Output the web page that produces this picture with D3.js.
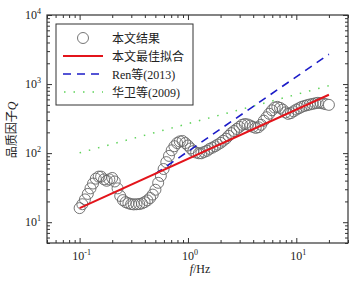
<!DOCTYPE html>
<html>
<head>
<meta charset="utf-8">
<script src="https://cdn.jsdelivr.net/npm/d3@7"></script>
<style>
  body { margin: 0; background: #fff; }
  text { font-family: "Liberation Serif", "Noto Sans CJK SC", serif; fill: #222; }
</style>
</head>
<body>
<svg id="chart" width="361" height="281"></svg>
<script>
const freq = [0.100, 0.106, 0.112, 0.119, 0.126, 0.133, 0.141, 0.150, 0.158, 0.168,
  0.178, 0.188, 0.200, 0.211, 0.224, 0.237, 0.251, 0.266, 0.282, 0.299,
  0.316, 0.335, 0.355, 0.376, 0.398, 0.422, 0.447, 0.473, 0.501, 0.531,
  0.562, 0.596, 0.631, 0.668, 0.708, 0.750, 0.794, 0.841, 0.891, 0.944,
  1.00, 1.06, 1.12, 1.19, 1.26, 1.33, 1.41, 1.50, 1.58, 1.68,
  1.78, 1.88, 2.00, 2.11, 2.24, 2.37, 2.51, 2.66, 2.82, 2.99,
  3.16, 3.35, 3.55, 3.76, 3.98, 4.22, 4.47, 4.73, 5.01, 5.31,
  5.62, 5.96, 6.31, 6.68, 7.08, 7.50, 7.94, 8.41, 8.91, 9.44,
  10.0, 10.6, 11.2, 11.9, 12.6, 13.3, 14.1, 15.0, 15.8, 16.8,
  17.8, 18.8, 20.0];
const qObs = [16.0, 18.2, 21.4, 25.7, 30.9, 36.3, 42.7, 45.7, 45.7, 41.7,
  39.8, 41.7, 43.7, 38.9, 30.9, 24.0, 20.9, 19.5, 18.8, 18.3,
  18.1, 18.2, 18.3, 18.7, 19.5, 20.7, 22.4, 25.1, 29.5, 37.2,
  46.8, 58.9, 74.1, 91.2, 110, 126, 140, 148, 150, 140,
  129, 117, 107, 102, 99.5, 99.5, 104, 108, 115, 120,
  126, 133, 141, 151, 162, 178, 195, 209, 224, 240,
  257, 264, 260, 251, 240, 232, 237, 257, 295, 331,
  372, 417, 457, 468, 452, 427, 389, 370, 380, 403,
  427, 447, 468, 483, 495, 506, 516, 527, 535, 532,
  522, 511, 500];

// fitted / published relations (end points)
const fitF = [0.1, 20];
const fitQ = [16, 700];
const renF = [0.5, 20];
const renQ = [50, 2700];
const huaF = [0.1, 20];
const huaQ = [101, 948];

const legendLabels = ["本文结果", "本文最佳拟合", "Ren等(2013)", "华卫等(2009)"];

const xMajor = [0.1, 1, 10];
const xMinor = [0.05, 0.06, 0.07, 0.08, 0.09, 0.2, 0.3, 0.4, 0.5, 0.6, 0.7, 0.8, 0.9,
  2, 3, 4, 5, 6, 7, 8, 9, 20, 30];
const yMajor = [10, 100, 1000, 10000];
const yMinor = [5, 6, 7, 8, 9, 20, 30, 40, 50, 60, 70, 80, 90,
  200, 300, 400, 500, 600, 700, 800, 900, 2000, 3000, 4000, 5000, 6000, 7000, 8000, 9000];

const svg = d3.select("#chart");
const pLeft = 47, pRight = 348, pTop = 15, pBottom = 243;

const x = d3.scaleLog().domain([0.05, 30]).range([pLeft, pRight]);
const y = d3.scaleLog().domain([5, 10000]).range([pBottom, pTop]);

// observed points: open grey rings, the densely packed band
const pts = freq.map((f, i) => ({ f: f, q: qObs[i] }));
svg.append("g")
  .selectAll("circle")
  .data(pts)
  .enter()
  .append("circle")
  .attr("cx", d => x(d.f))
  .attr("cy", d => y(d.q))
  .attr("r", 5.5)
  .attr("fill", (d, i) => (i === pts.length - 1 ? "#fff" : "none"))
  .attr("stroke", "#666")
  .attr("stroke-width", 0.9);

const line = d3.line().x(d => x(d[0])).y(d => y(d[1]));

// 华卫等(2009)
svg.append("path")
  .datum(huaF.map((f, i) => [f, huaQ[i]]))
  .attr("d", line)
  .attr("fill", "none")
  .attr("stroke", "#5fd35a")
  .attr("stroke-width", 1.5)
  .attr("stroke-dasharray", "1.5,8");

// Ren等(2013)
svg.append("path")
  .datum(renF.map((f, i) => [f, renQ[i]]))
  .attr("d", line)
  .attr("fill", "none")
  .attr("stroke", "#1c1cc8")
  .attr("stroke-width", 1.6)
  .attr("stroke-dasharray", "8,6");

// best fit
svg.append("path")
  .datum(fitF.map((f, i) => [f, fitQ[i]]))
  .attr("d", line)
  .attr("fill", "none")
  .attr("stroke", "#e3141b")
  .attr("stroke-width", 2);

// axes, ticks pointing inward on all four sides
function axis(gen, tx, ty, vals, size) {
  const a = svg.append("g")
    .attr("transform", `translate(${tx},${ty})`)
    .call(gen.tickValues(vals).tickSize(size).tickSizeOuter(0).tickFormat(""));
  a.select(".domain").remove();
  a.selectAll("line").attr("stroke", "#333").attr("stroke-width", 1);
}
axis(d3.axisBottom(x), 0, pBottom, xMajor, -5);
axis(d3.axisBottom(x), 0, pBottom, xMinor, -3);
axis(d3.axisTop(x), 0, pTop, xMajor, -5);
axis(d3.axisTop(x), 0, pTop, xMinor, -3);
axis(d3.axisLeft(y), pLeft, 0, yMajor, -5);
axis(d3.axisLeft(y), pLeft, 0, yMinor, -3);
axis(d3.axisRight(y), pRight, 0, yMajor, -5);
axis(d3.axisRight(y), pRight, 0, yMinor, -3);

svg.append("rect")
  .attr("x", pLeft).attr("y", pTop)
  .attr("width", pRight - pLeft).attr("height", pBottom - pTop)
  .attr("fill", "none").attr("stroke", "#333").attr("stroke-width", 1.2);

// tick labels 10^n
function powLabel(sel, v) {
  sel.append("tspan").text("10");
  sel.append("tspan").attr("dy", -5).attr("font-size", 8).text(Math.round(Math.log10(v)));
}
xMajor.forEach(v => {
  const t = svg.append("text")
    .attr("x", x(v) + 2).attr("y", 260)
    .attr("text-anchor", "middle").attr("font-size", 12);
  powLabel(t, v);
});
yMajor.forEach(v => {
  const t = svg.append("text")
    .attr("x", 41).attr("y", y(v) + 4)
    .attr("text-anchor", "end").attr("font-size", 12);
  powLabel(t, v);
});

// axis titles
const xt = svg.append("text").attr("x", 200).attr("y", 273)
  .attr("text-anchor", "middle").attr("font-size", 12);
xt.append("tspan").attr("font-style", "italic").text("f");
xt.append("tspan").text("/Hz");

const yt = svg.append("text")
  .attr("transform", "translate(16,130) rotate(-90)")
  .attr("text-anchor", "middle").attr("font-size", 12);
yt.append("tspan").text("品质因子");
yt.append("tspan").attr("font-style", "italic").text("Q");

// legend
const lg = svg.append("g");
lg.append("rect")
  .attr("x", 56).attr("y", 24).attr("width", 137).attr("height", 81)
  .attr("fill", "#fff").attr("stroke", "#333").attr("stroke-width", 1);

const rowY = [38, 56, 74, 92];
lg.append("circle").attr("cx", 83).attr("cy", rowY[0]).attr("r", 5.5)
  .attr("fill", "#fff").attr("stroke", "#666").attr("stroke-width", 0.9);
lg.append("line").attr("x1", 63).attr("x2", 103).attr("y1", rowY[1]).attr("y2", rowY[1])
  .attr("stroke", "#e3141b").attr("stroke-width", 2);
lg.append("line").attr("x1", 63).attr("x2", 103).attr("y1", rowY[2]).attr("y2", rowY[2])
  .attr("stroke", "#1c1cc8").attr("stroke-width", 1.6).attr("stroke-dasharray", "8,6");
lg.append("line").attr("x1", 64).attr("x2", 103).attr("y1", rowY[3]).attr("y2", rowY[3])
  .attr("stroke", "#5fd35a").attr("stroke-width", 1.5).attr("stroke-dasharray", "1.5,8");

legendLabels.forEach((s, i) => {
  lg.append("text").attr("x", 112).attr("y", rowY[i] + 4.5)
    .attr("font-size", 12).text(s);
});
</script>
</body>
</html>
